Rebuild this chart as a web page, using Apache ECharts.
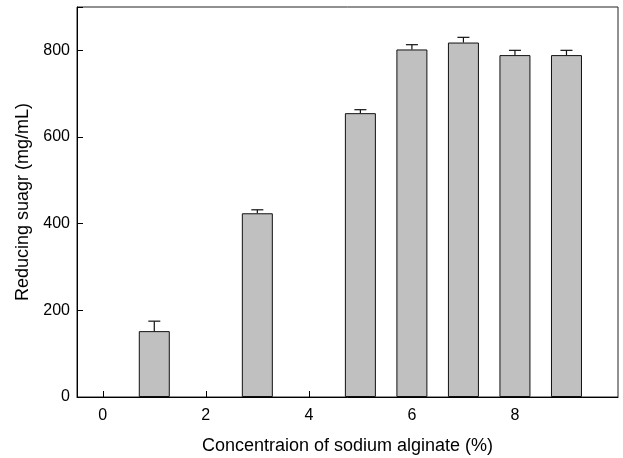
<!DOCTYPE html>
<html>
<head>
<meta charset="utf-8">
<script src="https://cdn.jsdelivr.net/npm/echarts@6/dist/echarts.min.js"></script>
<style>
  html, body { margin: 0; padding: 0; background: #fff; }
  #chart { width: 623px; height: 458px; }
</style>
</head>
<body>
<div id="chart"></div>
<script>
// sodium alginate concentration (%) and reducing sugar (mg/mL)
var conc = [1, 3, 5, 6, 7, 8, 9];
var sugar = [152, 424, 655, 802, 818, 789, 789];
var sugarErr = [23, 8, 8, 11, 12, 11, 11];
var xTicks = [0, 2, 4, 6, 8];
var yTicks = [0, 200, 400, 600, 800];

var myChart = echarts.init(document.getElementById('chart'));

var barData = [];
var errData = [];
for (var i = 0; i < conc.length; i++) {
    barData.push([conc[i], sugar[i]]);
    errData.push([conc[i], sugar[i], sugar[i] + sugarErr[i]]);
}

var font = 'Liberation Sans, Arial, sans-serif';

var option = {
    animation: false,
    grid: {
        left: 77, top: 7, right: 5, bottom: 61,
        outerBoundsMode: 'none',
        show: true,
        borderColor: '#222',
        borderWidth: 1
    },
    xAxis: {
        type: 'value',
        min: -0.5,
        max: 10,
        name: 'Concentraion of sodium alginate (%)',
        nameLocation: 'middle',
        nameGap: 40,
        nameTextStyle: { fontSize: 18, color: '#000', fontFamily: font },
        axisLine: { show: true, onZero: false, lineStyle: { color: '#000', width: 1 } },
        axisTick: { show: true, inside: true, length: 6, customValues: xTicks, lineStyle: { color: '#000', width: 1 } },
        axisLabel: { customValues: xTicks, margin: 11, fontSize: 16, color: '#000', fontFamily: font },
        splitLine: { show: false }
    },
    yAxis: {
        type: 'value',
        min: 0,
        max: 900,
        interval: 200,
        name: 'Reducing suagr (mg/mL)',
        nameLocation: 'middle',
        nameGap: 44,
        nameTextStyle: { fontSize: 18, color: '#000', fontFamily: font },
        axisLine: { show: true, onZero: false, lineStyle: { color: '#000', width: 1 } },
        axisTick: { show: true, inside: true, length: 6, lineStyle: { color: '#000', width: 1 } },
        axisLabel: { customValues: yTicks, margin: 7, fontSize: 16, color: '#000', fontFamily: font },
        splitLine: { show: false }
    },
    series: [
        {
            type: 'bar',
            data: barData,
            barWidth: 31,
            itemStyle: { color: '#c0c0c0', borderColor: '#111', borderWidth: 1 }
        },
        {
            type: 'custom',
            data: errData,
            z: 1,
            renderItem: function (params, api) {
                var x = api.value(0);
                var low = api.coord([x, api.value(1)]);
                var high = api.coord([x, api.value(2)]);
                var half = 6;
                var style = { stroke: '#111', lineWidth: 1.2 };
                return {
                    type: 'group',
                    children: [
                        { type: 'line', shape: { x1: low[0], y1: low[1], x2: high[0], y2: high[1] }, style: style },
                        { type: 'line', shape: { x1: high[0] - half, y1: high[1], x2: high[0] + half, y2: high[1] }, style: style }
                    ]
                };
            }
        }
    ]
};

myChart.setOption(option);
window.onresize = myChart.resize;
</script>
</body>
</html>
